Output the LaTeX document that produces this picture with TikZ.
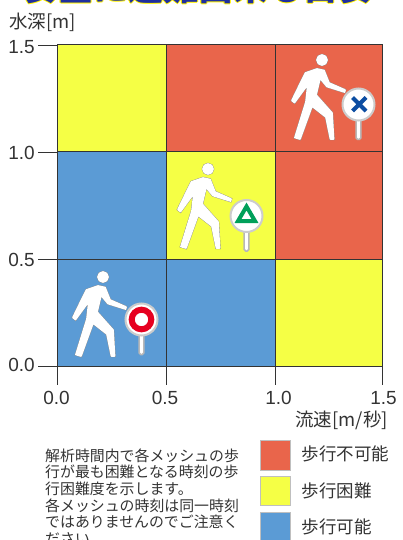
\documentclass[tikz,border=0pt]{standalone}
\usepackage{fontspec}
\setmainfont{Liberation Sans}
\newfontfamily\cjk{Noto Sans CJK JP}
\definecolor{cred}{HTML}{E9654B}
\definecolor{cyel}{HTML}{F5FF45}
\definecolor{cblu}{HTML}{5B9BD5}
\definecolor{ttl}{HTML}{1F2F9E}
\definecolor{txt}{HTML}{333333}
\definecolor{sgnb}{HTML}{0C4DA2}
\definecolor{sgng}{HTML}{00A05A}
\definecolor{sgnr}{HTML}{E60020}
\tikzset{
  cell/.style={draw=black!80,line width=1pt},
  axtick/.style={draw=black!80,line width=.9pt},
  num/.style={font=\fontsize{19}{20}\selectfont,text=txt,inner sep=0pt},
  lab/.style={font=\cjk\fontsize{18.5}{20}\selectfont,text=txt,inner sep=0pt},
  legtxt/.style={font=\cjk\fontsize{17.5}{20}\selectfont,text=txt,inner sep=0pt,anchor=west},
  legbox/.style={draw=black!25,line width=.5pt},
  person/.style={fill=white,draw=white,line width=1.7pt,line join=round,preaction={draw=black!45,line width=2.4pt}},
  pole/.style={fill=white,draw=black!28,line width=1.5pt,rounded corners=1.5pt},
  disc/.style={fill=white,draw=black!20,line width=2pt},
  ttlnode/.style={font=\cjk\bfseries\fontsize{35}{36}\selectfont,inner sep=0pt,anchor=base},
}
\newcommand{\walker}[1]{%
 \begin{scope}[shift={(#1)}]
  \draw[person] (0,0) circle (5);
  \draw[person] (-5,9) -- (2,10.5) -- (7,23) -- (23,30) -- (22.5,32) -- (5,26.5) -- (-2,18) -- (-6,35) -- (10,53) -- (11.5,79) -- (8.5,79) -- (4,57) -- (-10,46) -- (-22,79) -- (-27,77.5) -- (-16,42) -- (-14,24) -- (-27.5,42.5) -- (-30,40.5) -- (-21,22) -- (-16.5,13) -- cycle;
 \end{scope}}
\newcommand{\sign}[1]{%
 \begin{scope}[shift={(#1)}]
  \draw[pole] (-2.3,14) rectangle (2.3,35);
  \draw[disc] (0,0) circle (16);
 \end{scope}}
\begin{document}
\begin{tikzpicture}[x=1pt,y=-1pt]
\useasboundingbox (0,0) rectangle (402,540);
\clip (0,0) rectangle (402,540);
% title
\foreach \dx/\dy in {-1/0,1/0,0/1,-.8/.8,.8/.8}
  \node[ttlnode,text=yellow] at (198+\dx,.2+\dy) {安全に避難出来る目安};
\node[ttlnode,text=ttl] (title) at (198,.2) {安全に避難出来る目安};
% grid cells
\path[fill=cyel,cell] (57,45) rectangle (166,152);
\path[fill=cred,cell] (166,45) rectangle (275,152);
\path[fill=cred,cell] (275,45) rectangle (382,152);
\path[fill=cblu,cell] (57,152) rectangle (166,259);
\path[fill=cyel,cell] (166,152) rectangle (275,259);
\path[fill=cred,cell] (275,152) rectangle (382,259);
\path[fill=cblu,cell] (57,259) rectangle (166,366);
\path[fill=cblu,cell] (166,259) rectangle (275,366);
\path[fill=cyel,cell] (275,259) rectangle (382,366);
% ticks
\foreach \y in {45,152,259,366} \draw[axtick] (38,\y) -- (57,\y);
\foreach \x in {57,166,275,382} \draw[axtick] (\x,366) -- (\x,385);
% axis numbers
\node[num,anchor=east] (y15) at (35,47) {1.5};
\node[num,anchor=east] (y10) at (35,153) {1.0};
\node[num,anchor=east] (y05) at (35,260) {0.5};
\node[num,anchor=east] (y00) at (35,365) {0.0};
\node[num] (x00) at (56.5,398) {0.0};
\node[num] (x05) at (165,398) {0.5};
\node[num] (x10) at (278.5,398) {1.0};
\node[num] (x15) at (383.5,398) {1.5};
\node[lab,anchor=west] (ylab) at (9,22) {水深[m]};
\node[lab,anchor=east] (xlab) at (388,420) {流速[m/秒]};
% walkers and signs
\walker{322,60}
\sign{358.5,104.5}
\draw[sgnb,line width=4pt] (352.5,97.5) -- (366,111) (366,97.5) -- (352.5,111);
\walker{208,169}
\sign{246.5,216}
\draw[sgng,line width=4pt,line join=miter] (246.5,206.5) -- (255,221) -- (238,221) -- cycle;
\walker{103,277}
\sign{141.5,319.5}
\draw[sgnr,line width=6pt] (141.5,319.5) circle (9.8);
% note
\node[font=\cjk\fontsize{14.9}{16.6}\selectfont,text=txt,align=left,anchor=north west,inner sep=0pt] (note) at (45,448.5)
 {解析時間内で各メッシュの歩\\行が最も困難となる時刻の歩\\行困難度を示します。\\各メッシュの時刻は同一時刻\\ではありませんのでご注意く\\ださい。};
% legend
\path[fill=cred,legbox] (260,440) rectangle (290,470);
\path[fill=cyel,legbox] (260,476.5) rectangle (290,505.5);
\path[fill=cblu,legbox] (260,512.5) rectangle (290,545);
\node[legtxt] (l1) at (301.5,454) {歩行不可能};
\node[legtxt] (l2) at (301.5,491) {歩行困難};
\node[legtxt] (l3) at (301.5,527) {歩行可能};
\end{tikzpicture}
\end{document}
